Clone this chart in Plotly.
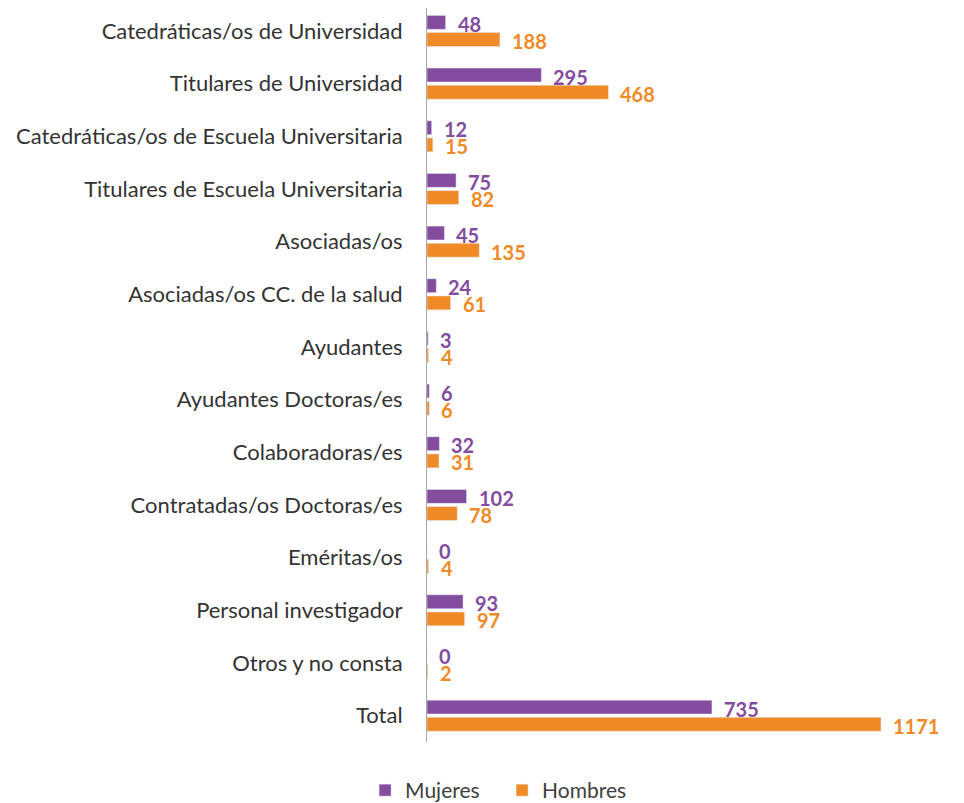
import plotly.graph_objects as go

categories = [
    "Catedráticas/os de Universidad",
    "Titulares de Universidad",
    "Catedráticas/os de Escuela Universitaria",
    "Titulares de Escuela Universitaria",
    "Asociadas/os",
    "Asociadas/os CC. de la salud",
    "Ayudantes",
    "Ayudantes Doctoras/es",
    "Colaboradoras/es",
    "Contratadas/os Doctoras/es",
    "Eméritas/os",
    "Personal investigador",
    "Otros y no consta",
    "Total",
]
mujeres = [48, 295, 12, 75, 45, 24, 3, 6, 32, 102, 0, 93, 0, 735]
hombres = [188, 468, 15, 82, 135, 61, 4, 6, 31, 78, 4, 97, 2, 1171]

PURPLE = "#834C9F"
ORANGE = "#EF8A27"
FONT = "Lato"

fig = go.Figure()
fig.add_trace(go.Bar(y=categories, x=mujeres, name="Mujeres", orientation="h",
                     marker_color=PURPLE))
fig.add_trace(go.Bar(y=categories, x=hombres, name="Hombres", orientation="h",
                     marker_color=ORANGE))

annotations = []
for cat, m, h in zip(categories, mujeres, hombres):
    annotations.append(dict(x=m, y=cat, xref="x", yref="y", text=str(m),
                            showarrow=False, xanchor="left", yanchor="middle",
                            xshift=11, yshift=7, height=16, borderpad=0,
                            font=dict(family=FONT, size=20, color=PURPLE, weight="bold")))
    annotations.append(dict(x=h, y=cat, xref="x", yref="y", text=str(h),
                            showarrow=False, xanchor="left", yanchor="middle",
                            xshift=11, yshift=-10, height=16, borderpad=0,
                            font=dict(family=FONT, size=20, color=ORANGE, weight="bold")))

fig.update_layout(
    width=964, height=803,
    barmode="group", bargap=0.348, bargroupgap=0.19,
    plot_bgcolor="white", paper_bgcolor="white",
    margin=dict(l=419, r=41, t=0, b=68),
    font=dict(family=FONT, size=22, color="#333333"),
    annotations=annotations,
    legend=dict(orientation="h", x=0.149, xanchor="center", y=-0.066, yanchor="middle",
                font=dict(family=FONT, size=21, color="#404040"),
                entrywidth=92, entrywidthmode="pixels"),
    showlegend=True,
)
fig.update_xaxes(range=[0, 1300], showgrid=False, showticklabels=False,
                 zeroline=False, showline=False, ticks="")
fig.update_yaxes(range=[13.5, -0.436], showline=True, linecolor="#A6A6A6",
                 linewidth=1, ticks="", ticklabelstandoff=19,
                 tickfont=dict(family=FONT, size=22, color="#333333"))

fig.write_html("out.html")
